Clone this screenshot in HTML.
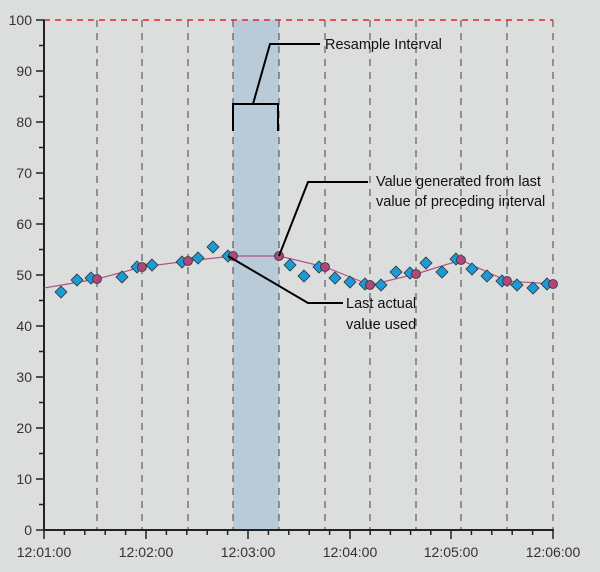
<!DOCTYPE html>
<html><head><style>body{margin:0;background:#dcdddd}svg{display:block}text{font-family:"Liberation Sans",sans-serif}</style></head><body>
<svg width="600" height="572" viewBox="0 0 600 572">
<rect width="600" height="572" fill="#dcdddd"/>
<rect x="233" y="20" width="46" height="510" fill="#b9cbd9"/>
<g stroke="#444" stroke-width="1" stroke-dasharray="7,6">
<line x1="97" y1="20" x2="97" y2="530"/><line x1="142" y1="20" x2="142" y2="530"/><line x1="188" y1="20" x2="188" y2="530"/><line x1="233" y1="20" x2="233" y2="530"/><line x1="279" y1="20" x2="279" y2="530"/><line x1="325" y1="20" x2="325" y2="530"/><line x1="370" y1="20" x2="370" y2="530"/><line x1="416" y1="20" x2="416" y2="530"/><line x1="461" y1="20" x2="461" y2="530"/><line x1="507" y1="20" x2="507" y2="530"/><line x1="553" y1="20" x2="553" y2="530"/>
</g>
<line x1="44" y1="20" x2="553" y2="20" stroke="#e8242a" stroke-width="1.5" stroke-dasharray="6,5"/>
<g stroke="#222" stroke-width="2" fill="none">
<line x1="44" y1="20" x2="44" y2="531"/><line x1="43" y1="530" x2="554" y2="530"/>
</g>
<g stroke="#222" stroke-width="1.5">
<line x1="36" y1="20" x2="44" y2="20"/><line x1="36" y1="71" x2="44" y2="71"/><line x1="36" y1="122" x2="44" y2="122"/><line x1="36" y1="173" x2="44" y2="173"/><line x1="36" y1="224" x2="44" y2="224"/><line x1="36" y1="275" x2="44" y2="275"/><line x1="36" y1="326" x2="44" y2="326"/><line x1="36" y1="377" x2="44" y2="377"/><line x1="36" y1="428" x2="44" y2="428"/><line x1="36" y1="479" x2="44" y2="479"/><line x1="36" y1="530" x2="44" y2="530"/>
<line x1="39" y1="45.5" x2="44" y2="45.5"/><line x1="39" y1="96.5" x2="44" y2="96.5"/><line x1="39" y1="147.5" x2="44" y2="147.5"/><line x1="39" y1="198.5" x2="44" y2="198.5"/><line x1="39" y1="249.5" x2="44" y2="249.5"/><line x1="39" y1="300.5" x2="44" y2="300.5"/><line x1="39" y1="351.5" x2="44" y2="351.5"/><line x1="39" y1="402.5" x2="44" y2="402.5"/><line x1="39" y1="453.5" x2="44" y2="453.5"/><line x1="39" y1="504.5" x2="44" y2="504.5"/>
<line x1="44" y1="530" x2="44" y2="539"/><line x1="146" y1="530" x2="146" y2="539"/><line x1="248" y1="530" x2="248" y2="539"/><line x1="350" y1="530" x2="350" y2="539"/><line x1="451" y1="530" x2="451" y2="539"/><line x1="553" y1="530" x2="553" y2="539"/>
<line x1="64.4" y1="530" x2="64.4" y2="535"/><line x1="84.8" y1="530" x2="84.8" y2="535"/><line x1="105.2" y1="530" x2="105.2" y2="535"/><line x1="125.6" y1="530" x2="125.6" y2="535"/>
<line x1="166.4" y1="530" x2="166.4" y2="535"/><line x1="186.8" y1="530" x2="186.8" y2="535"/><line x1="207.2" y1="530" x2="207.2" y2="535"/><line x1="227.6" y1="530" x2="227.6" y2="535"/>
<line x1="268.4" y1="530" x2="268.4" y2="535"/><line x1="288.8" y1="530" x2="288.8" y2="535"/><line x1="309.2" y1="530" x2="309.2" y2="535"/><line x1="329.6" y1="530" x2="329.6" y2="535"/>
<line x1="370.2" y1="530" x2="370.2" y2="535"/><line x1="390.4" y1="530" x2="390.4" y2="535"/><line x1="410.6" y1="530" x2="410.6" y2="535"/><line x1="430.8" y1="530" x2="430.8" y2="535"/>
<line x1="471.4" y1="530" x2="471.4" y2="535"/><line x1="491.8" y1="530" x2="491.8" y2="535"/><line x1="512.2" y1="530" x2="512.2" y2="535"/><line x1="532.6" y1="530" x2="532.6" y2="535"/>
</g>
<g font-size="14" fill="#333" text-anchor="end">
<text x="32" y="25">100</text><text x="32" y="76">90</text><text x="32" y="127">80</text><text x="32" y="178">70</text><text x="32" y="229">60</text><text x="32" y="280">50</text><text x="32" y="331">40</text><text x="32" y="382">30</text><text x="32" y="433">20</text><text x="32" y="484">10</text><text x="32" y="535">0</text>
</g>
<g font-size="14" fill="#333" text-anchor="middle">
<text x="44" y="557">12:01:00</text><text x="146" y="557">12:02:00</text><text x="248" y="557">12:03:00</text><text x="350" y="557">12:04:00</text><text x="451" y="557">12:05:00</text><text x="553" y="557">12:06:00</text>
</g>
<polyline points="44,288 97,279 142,267 188,261 233,256 279,256 325,267 370,285 416,274 461,260 507,281 553,284" fill="none" stroke="#b0548a" stroke-width="1.2"/>
<g fill="#1a9ad6" stroke="#333" stroke-width="0.8">
<path d="M61,286l6,6l-6,6l-6,-6z"/><path d="M77,274l6,6l-6,6l-6,-6z"/><path d="M91,272l6,6l-6,6l-6,-6z"/><path d="M122,271l6,6l-6,6l-6,-6z"/><path d="M137,261l6,6l-6,6l-6,-6z"/><path d="M152,259l6,6l-6,6l-6,-6z"/><path d="M182,256l6,6l-6,6l-6,-6z"/><path d="M198,252l6,6l-6,6l-6,-6z"/><path d="M213,241l6,6l-6,6l-6,-6z"/><path d="M228,250l6,6l-6,6l-6,-6z"/>
<path d="M290,259l6,6l-6,6l-6,-6z"/><path d="M304,270l6,6l-6,6l-6,-6z"/><path d="M319,261l6,6l-6,6l-6,-6z"/><path d="M335,272l6,6l-6,6l-6,-6z"/><path d="M350,276l6,6l-6,6l-6,-6z"/><path d="M365,278l6,6l-6,6l-6,-6z"/><path d="M381,279l6,6l-6,6l-6,-6z"/><path d="M396,266l6,6l-6,6l-6,-6z"/><path d="M410,267l6,6l-6,6l-6,-6z"/><path d="M426,257l6,6l-6,6l-6,-6z"/><path d="M442,266l6,6l-6,6l-6,-6z"/><path d="M456,253l6,6l-6,6l-6,-6z"/><path d="M472,263l6,6l-6,6l-6,-6z"/><path d="M487,270l6,6l-6,6l-6,-6z"/><path d="M502,275l6,6l-6,6l-6,-6z"/><path d="M517,279l6,6l-6,6l-6,-6z"/><path d="M533,282l6,6l-6,6l-6,-6z"/><path d="M547,278l6,6l-6,6l-6,-6z"/>
</g>
<g fill="#b0467a" stroke="#333" stroke-width="0.8">
<circle cx="97" cy="279" r="4.5"/><circle cx="142" cy="267" r="4.5"/><circle cx="188" cy="261" r="4.5"/><circle cx="233" cy="256" r="4.5"/><circle cx="279" cy="256" r="4.5"/><circle cx="325" cy="267" r="4.5"/><circle cx="370" cy="285" r="4.5"/><circle cx="416" cy="274" r="4.5"/><circle cx="461" cy="260" r="4.5"/><circle cx="507" cy="281" r="4.5"/><circle cx="553" cy="284" r="4.5"/>
</g>
<g stroke="#000" stroke-width="2" fill="none">
<polyline points="233,131 233,104 278,104 278,131"/>
<polyline points="253,104 270,44 320,44"/>
<polyline points="279,256 308,182 368,182"/>
<polyline points="228,256 308,303 343,303"/>
</g>
<g font-size="14.5" fill="#111">
<text x="325" y="49">Resample Interval</text>
<text x="376" y="186">Value generated from last</text>
<text x="376" y="206">value of preceding interval</text>
<text x="346" y="308">Last actual</text>
<text x="346" y="329">value used</text>
</g>
</svg>
</body></html>
